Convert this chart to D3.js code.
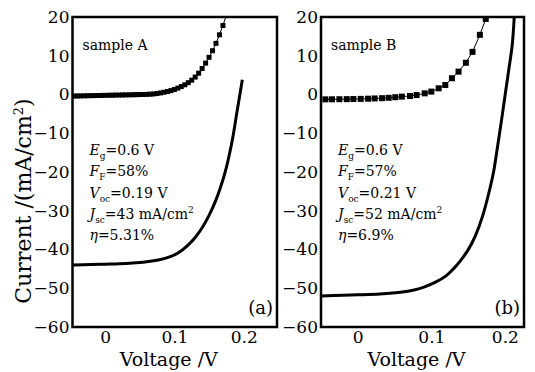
<!DOCTYPE html>
<html>
<head>
<meta charset="utf-8">
<script src="https://cdn.jsdelivr.net/npm/d3@7"></script>
<style>
  html, body { margin: 0; padding: 0; background: #fff; }
  svg { display: block; }
</style>
</head>
<body>
<svg id="chart" width="535" height="372"></svg>
<script>
// ---------------- data ----------------
const yTicks = [20, 10, 0, -10, -20, -30, -40, -50, -60];
const xTicks = [0, 0.1, 0.2];
const xTickLabels = ["0", "0.1", "0.2"];

// Sample A: dark (squares) and light (solid) J–V curves
const darkA_V = [-0.045, -0.040, -0.035, -0.030, -0.025, -0.020, -0.015, -0.010, -0.005, 0.000,
                 0.005, 0.010, 0.015, 0.020, 0.025, 0.030, 0.035, 0.040, 0.045, 0.050,
                 0.055, 0.060, 0.065, 0.070, 0.075, 0.080, 0.085, 0.090, 0.095, 0.100,
                 0.105, 0.110, 0.115, 0.120, 0.125, 0.130, 0.135, 0.140, 0.145, 0.150,
                 0.155, 0.160, 0.165, 0.170, 0.175];
const darkA_J = [-0.40, -0.38, -0.36, -0.34, -0.32, -0.30, -0.28, -0.26, -0.24, -0.22,
                 -0.20, -0.18, -0.16, -0.14, -0.12, -0.10, -0.08, -0.06, -0.04, -0.02,
                 0.00, 0.03, 0.08, 0.15, 0.25, 0.40, 0.58, 0.78, 1.00, 1.30,
                 1.65, 2.05, 2.50, 3.05, 3.70, 4.50, 5.50, 6.70, 8.10, 9.60,
                 11.3, 13.2, 15.4, 17.8, 20.5];
const lightA_V = [-0.046, -0.02, 0.0, 0.02, 0.04, 0.05, 0.06, 0.07, 0.08, 0.09, 0.10, 0.11, 0.12, 0.13,
                  0.14, 0.15, 0.16, 0.17, 0.175, 0.18, 0.185, 0.19, 0.195, 0.198];
const lightA_J = [-44.0, -43.9, -43.8, -43.7, -43.5, -43.35, -43.15, -42.9, -42.6, -42.1, -41.4, -40.3, -38.8, -36.9,
                  -34.4, -31.2, -27.2, -22.0, -18.8, -14.9, -10.3, -4.8, 0.6, 3.8];

// Sample B
const darkB_V = [-0.044, -0.035, -0.025, -0.015, -0.006, 0.004, 0.014, 0.023, 0.033, 0.042,
                 0.051, 0.060, 0.071, 0.080, 0.091, 0.100, 0.110, 0.119, 0.128, 0.137,
                 0.147, 0.156, 0.166, 0.174, 0.178];
const darkB_J = [-1.25, -1.24, -1.22, -1.20, -1.17, -1.13, -1.08, -1.02, -0.95, -0.85,
                 -0.70, -0.55, -0.38, -0.15, 0.30, 0.75, 1.60, 2.45, 4.20, 5.90,
                 8.20, 11.0, 15.4, 19.5, 21.5];
const lightB_V = [-0.05, -0.02, 0.0, 0.03, 0.055, 0.075, 0.09, 0.105, 0.12, 0.13, 0.14, 0.15,
                  0.16, 0.17, 0.18, 0.185, 0.19, 0.195, 0.2, 0.205, 0.21, 0.213];
const lightB_J = [-52.0, -51.8, -51.7, -51.5, -51.1, -50.5, -49.7, -48.5, -46.8, -45.0, -42.8, -40.1,
                  -36.4, -31.2, -24.0, -19.6, -13.5, -7.2, -0.6, 6.0, 12.8, 21.0];

const panels = [
  { id: "a", left: 72.5, right: 277, xDomain: [-0.047, 0.248], label: "(a)", sample: "sample A",
    darkV: darkA_V, darkJ: darkA_J, lightV: lightA_V, lightJ: lightA_J, marker: 5,
    params: { F: "58%", V: "0.19 V", J: "43", eta: "5.31%" } },
  { id: "b", left: 321, right: 524, xDomain: [-0.05, 0.226], label: "(b)", sample: "sample B",
    darkV: darkB_V, darkJ: darkB_J, lightV: lightB_V, lightJ: lightB_J, marker: 6,
    params: { F: "57%", V: "0.21 V", J: "52", eta: "6.9%" } }
];

const FONT = "DejaVu Serif";
const plotTop = 17, plotBottom = 327;
const svg = d3.select("#chart").attr("font-family", FONT);

panels.forEach(p => {
  const x = d3.scaleLinear().domain(p.xDomain).range([p.left, p.right]);
  const y = d3.scaleLinear().domain([-60, 20]).range([plotBottom, plotTop]);
  const g = svg.append("g");

  g.append("clipPath").attr("id", "clip-" + p.id)
    .append("rect").attr("x", p.left).attr("y", plotTop)
    .attr("width", p.right - p.left).attr("height", plotBottom - plotTop);

  const yAxis = g.append("g").attr("transform", `translate(${p.left},0)`)
    .call(d3.axisLeft(y).tickValues(yTicks).tickSize(0).tickPadding(3));
  yAxis.attr("font-family", FONT).attr("font-size", 17);
  yAxis.select(".domain").remove();

  const xAxis = g.append("g").attr("transform", `translate(0,${plotBottom})`)
    .call(d3.axisBottom(x).tickValues(xTicks).tickFormat((d, i) => xTickLabels[i]).tickSize(0).tickPadding(4));
  xAxis.attr("font-family", FONT).attr("font-size", 17);
  xAxis.select(".domain").remove();

  const plot = g.append("g").attr("clip-path", `url(#clip-${p.id})`);

  const light = p.lightV.map((v, i) => [v, p.lightJ[i]]);
  const dark = p.darkV.map((v, i) => [v, p.darkJ[i]]);
  const line = d3.line().x(d => x(d[0])).y(d => y(d[1])).curve(d3.curveCatmullRom.alpha(0.5));

  plot.append("path").datum(light).attr("d", line)
    .attr("fill", "none").attr("stroke", "#000").attr("stroke-width", 3);
  plot.append("path").datum(dark).attr("d", d3.line().x(d => x(d[0])).y(d => y(d[1])))
    .attr("fill", "none").attr("stroke", "#000").attr("stroke-width", 1);
  plot.selectAll("rect.m").data(dark).enter().append("rect")
    .attr("class", "m")
    .attr("x", d => x(d[0]) - p.marker / 2).attr("y", d => y(d[1]) - p.marker / 2)
    .attr("width", p.marker).attr("height", p.marker).attr("fill", "#000");

  g.append("rect").attr("x", p.left).attr("y", plotTop)
    .attr("width", p.right - p.left).attr("height", plotBottom - plotTop)
    .attr("fill", "none").attr("stroke", "#000").attr("stroke-width", 2.5);

  g.append("text").attr("x", p.left + 10).attr("y", 50).attr("font-size", 14).text(p.sample);
  g.append("text").attr("x", p.right - 4).attr("y", 314).attr("text-anchor", "end")
    .attr("font-size", 18).text(p.label);

  const bx = p.left + 17, by0 = 155, dy = 21.3;
  const addLine = (i, parts) => {
    const t = g.append("text").attr("x", bx).attr("y", by0 + i * dy).attr("font-size", 14);
    parts.forEach(pt => {
      const s = t.append("tspan").text(pt.t);
      if (pt.it) s.attr("font-style", "italic");
      if (pt.sub) s.attr("font-size", 9).attr("dy", 4);
      if (pt.sup) s.attr("font-size", 9).attr("dy", -6);
      if (pt.dy) s.attr("dy", pt.dy);
    });
  };
  addLine(0, [{ t: "E", it: true }, { t: "g", sub: true }, { t: "=0.6 V", dy: -4 }]);
  addLine(1, [{ t: "F", it: true }, { t: "F", sub: true }, { t: "=" + p.params.F, dy: -4 }]);
  addLine(2, [{ t: "V", it: true }, { t: "oc", sub: true }, { t: "=" + p.params.V, dy: -4 }]);
  addLine(3, [{ t: "J", it: true }, { t: "sc", sub: true }, { t: "=" + p.params.J + " mA/cm", dy: -4 }, { t: "2", sup: true }]);
  addLine(4, [{ t: "η", it: true }, { t: "=" + p.params.eta }]);

  g.append("text").attr("x", (p.left + p.right) / 2 - 6).attr("y", 366).attr("text-anchor", "middle")
    .attr("font-size", 19).text("Voltage /V");
});

const yt = svg.append("text").attr("transform", "translate(31,201) rotate(-90)")
  .attr("text-anchor", "middle").attr("font-size", 22);
yt.append("tspan").text("Current /(mA/cm");
yt.append("tspan").text("2").attr("font-size", 13).attr("dy", -8);
yt.append("tspan").text(")").attr("dy", 8);
</script>
</body>
</html>
